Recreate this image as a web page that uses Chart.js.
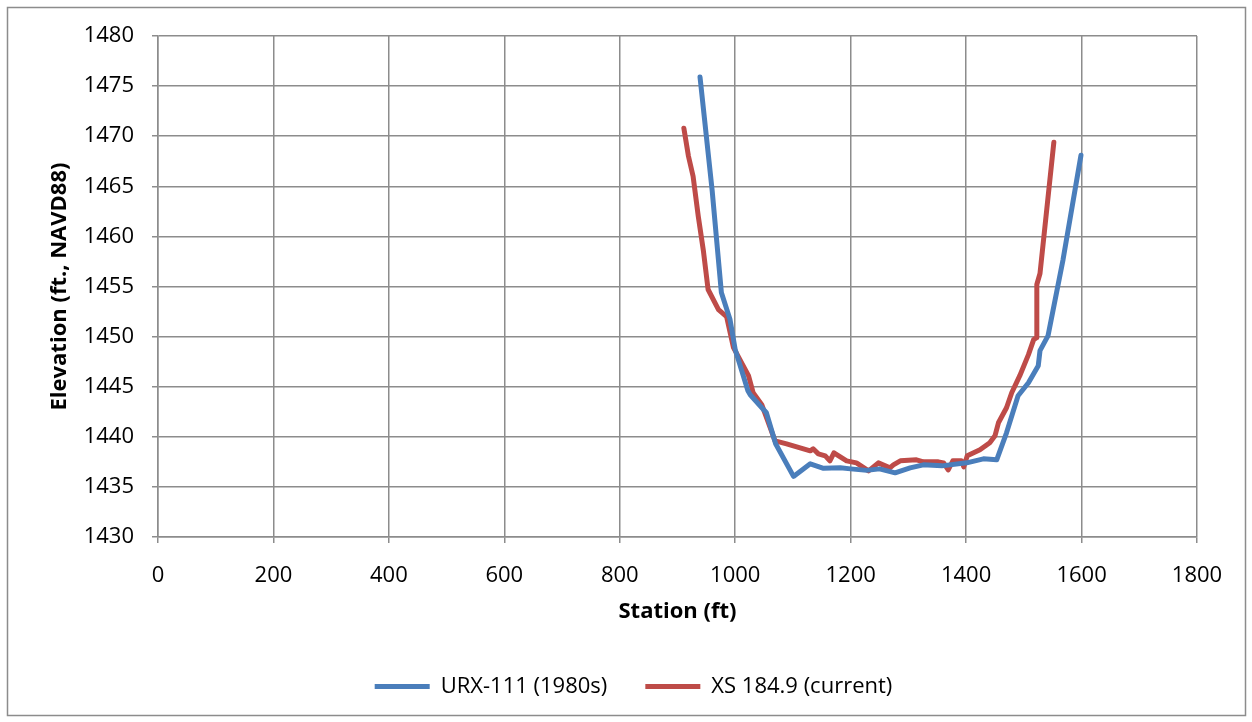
<!DOCTYPE html>
<html><head><meta charset="utf-8">
<script src="https://cdn.jsdelivr.net/npm/chart.js@4.4.1/dist/chart.umd.min.js"></script>
<style>html,body{margin:0;padding:0;background:#fff}#wrap{width:1252px;height:722px;position:relative}</style>
</head><body><div id="wrap"><canvas id="c" width="1252" height="722"></canvas></div>
<script>
const seriesNames = ['URX-111 (1980s)', 'XS 184.9 (current)'];
const seriesColors = ['#4A7EBB', '#BE4B48'];

const urxStation = [939, 960, 976, 991, 1000, 1022, 1026, 1054, 1070, 1101,
  1130, 1153, 1182, 1200, 1228, 1250, 1277, 1303, 1326, 1358,
  1401, 1430, 1453, 1470, 1490, 1508, 1525, 1528, 1542, 1568, 1599];
const urxElev = [1475.9, 1464.6, 1454.4, 1451.7, 1448.7, 1444.6, 1444.2, 1442.4, 1439.3, 1436.05,
  1437.3, 1436.85, 1436.9, 1436.8, 1436.65, 1436.8, 1436.4, 1436.9, 1437.2, 1437.1,
  1437.4, 1437.8, 1437.7, 1440.4, 1444.1, 1445.4, 1447.1, 1448.6, 1450.1, 1457.7, 1468.1];

const xsStation = [911, 919, 927, 936, 945, 953, 971, 985, 997, 1023,
  1031, 1046, 1069, 1089, 1130, 1135, 1144, 1156, 1164, 1171,
  1193, 1210, 1231, 1248, 1268, 1274, 1286, 1314, 1326, 1352,
  1361, 1369, 1377, 1392, 1396, 1402, 1424, 1441, 1450, 1456,
  1470, 1479, 1493, 1508, 1517, 1522, 1522.5, 1528, 1552];
const xsElev = [1470.8, 1468, 1466, 1462, 1458.5, 1454.7, 1452.7, 1452.0, 1448.9, 1446.1,
  1444.4, 1443.2, 1439.6, 1439.3, 1438.6, 1438.8, 1438.3, 1438.1, 1437.6, 1438.4,
  1437.6, 1437.4, 1436.6, 1437.4, 1436.9, 1437.2, 1437.6, 1437.7, 1437.5, 1437.5,
  1437.4, 1436.7, 1437.6, 1437.6, 1437.0, 1438.1, 1438.7, 1439.4, 1440.1, 1441.4,
  1442.9, 1444.4, 1446.1, 1448.2, 1449.7, 1449.9, 1455.2, 1456.3, 1469.4];

const xAxis = {min: 0, max: 1800, step: 200, title: 'Station (ft)'};
const yAxis = {min: 1430, max: 1480, step: 5, title: 'Elevation (ft., NAVD88)'};

const FONT = 'Open Sans, Liberation Sans, sans-serif';
const FS = 22;
const GRID = '#8c8c8c';

function toPoints(xs, ys) { return xs.map((x, i) => ({x: x, y: ys[i]})); }

function ds(label, color, xs, ys) {
  return {
    label: label, data: toPoints(xs, ys), showLine: true,
    borderColor: color, backgroundColor: color, borderWidth: 5,
    pointRadius: 0, pointHoverRadius: 0, tension: 0,
    borderCapStyle: 'round', borderJoinStyle: 'round'
  };
}

const frame = {
  id: 'frame',
  beforeDraw(chart) {
    const c = chart.ctx;
    c.save();
    c.fillStyle = '#fff';
    c.fillRect(0, 0, chart.width, chart.height);
    c.strokeStyle = GRID;
    c.lineWidth = 1.5;
    c.strokeRect(7.5, 7.5, 1238, 708);
    c.restore();
  }
};

new Chart(document.getElementById('c'), {
  type: 'scatter',
  data: {datasets: [
    ds(seriesNames[0], seriesColors[0], urxStation, urxElev),
    ds(seriesNames[1], seriesColors[1], xsStation, xsElev)
  ]},
  options: {
    responsive: false, animation: false, devicePixelRatio: 1,
    layout: {padding: {left: 70, right: 55, top: 36, bottom: 14.5}},
    plugins: {
      legend: {position: 'bottom', labels: {usePointStyle: true, pointStyle: 'line', pointStyleWidth: 55,
        padding: 38, color: '#000', font: {family: FONT, size: FS}}},
      tooltip: {enabled: false}
    },
    scales: {
      x: {type: 'linear', min: xAxis.min, max: xAxis.max,
        ticks: {stepSize: xAxis.step, padding: 20, color: '#000', font: {family: FONT, size: FS}, callback: v => String(v)},
        grid: {color: GRID, lineWidth: 1.5, tickLength: 6},
        border: {color: GRID, width: 1.5},
        title: {display: true, text: xAxis.title, color: '#000', font: {family: FONT, size: FS, weight: 'bold'}, padding: {top: 0, bottom: 12.5}},
        afterFit: s => { s.height = 100.5; }
      },
      y: {type: 'linear', min: yAxis.min, max: yAxis.max,
        ticks: {stepSize: yAxis.step, padding: 18, color: '#000', font: {family: FONT, size: FS}, callback: v => String(v)},
        grid: {color: GRID, lineWidth: 1.5, tickLength: 6},
        border: {color: GRID, width: 1.5},
        title: {display: true, text: yAxis.title, color: '#000', font: {family: FONT, size: FS, weight: 'bold'}, padding: {top: -23.2, bottom: 0}},
        afterFit: s => { s.width = 88; }
      }
    }
  },
  plugins: [frame]
});
</script></body></html>
